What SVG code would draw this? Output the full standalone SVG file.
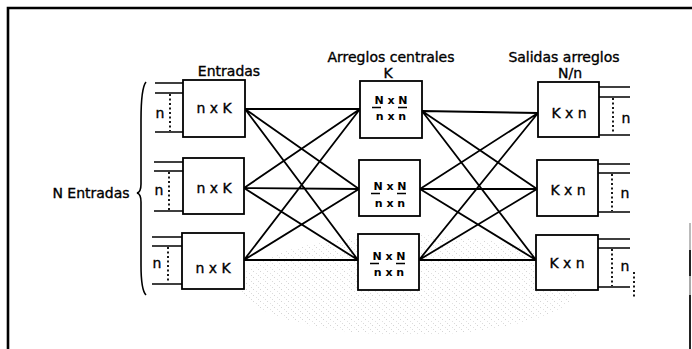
<svg xmlns="http://www.w3.org/2000/svg" width="692" height="349" viewBox="0 0 692 349">
<defs>
<style>
.box{fill:#fff;stroke:#000;stroke-width:1.8}
.t{font-family:"DejaVu Sans","Liberation Sans",sans-serif;font-size:14px;fill:#000;stroke:#000;stroke-width:0.35;text-anchor:middle}
.s{font-family:"DejaVu Sans","Liberation Sans",sans-serif;font-size:11px;font-weight:bold;fill:#000;text-anchor:middle}
.ln{stroke:#000;stroke-width:1.8;fill:none}
.io{stroke:#000;stroke-width:1.6;fill:none}
.dot{stroke:#000;stroke-width:1.8;stroke-dasharray:2 2.5;fill:none}
.bar{stroke:#000;stroke-width:1.3}
</style>
<pattern id="speck" width="7" height="6" patternUnits="userSpaceOnUse">
<rect x="1" y="1" width="1" height="1" fill="#888"/>
<rect x="4" y="3" width="1" height="1" fill="#aaa"/>
<rect x="6" y="5" width="1" height="1" fill="#999"/>
</pattern>
</defs>
<rect width="692" height="349" fill="#fff"/>
<ellipse cx="410" cy="285" rx="170" ry="50" fill="url(#speck)" opacity="0.35"/>
<g id="frame">
<path d="M8,349 L8,8 L692,8" fill="none" stroke="#000" stroke-width="2.6"/>
<line x1="690" y1="223" x2="690" y2="250" stroke="#bbb" stroke-width="2"/>
<line x1="690" y1="250" x2="690" y2="276" stroke="#222" stroke-width="2"/>
<line x1="690" y1="276" x2="690" y2="295" stroke="#aaa" stroke-width="2"/>
<line x1="690" y1="295" x2="690" y2="349" stroke="#222" stroke-width="2"/>
</g>
<g id="connectors">
<path class="ln" d="M245,109 L360,109 M245,109 L359,189 M245,109 L358,260 M244,188 L360,109 M244,188 L359,189 M244,188 L358,260 M244,260 L360,109 M244,260 L359,189 M244,260 L358,260"/>
<path class="ln" d="M422,111 L538,113 M422,111 L537,189 M422,111 L536,260 M420,189 L538,113 M420,189 L537,189 M420,189 L536,260 M419,260 L538,113 M419,260 L537,189 M419,260 L536,260"/>
</g>
<g id="labels">
<text class="t" x="229" y="76">Entradas</text>
<text class="t" x="391" y="62">Arreglos centrales</text>
<text class="t" x="388" y="78">K</text>
<text class="t" x="564" y="62">Salidas arreglos</text>
<text class="t" x="570" y="78">N/n</text>
<text class="t" x="91" y="198" font-size="13">N Entradas</text>
<path d="M146,82 Q141,88 141,120 L141,184 Q141,192 137,193 Q141,194 141,202 L141,265 Q141,290 146,295" fill="none" stroke="#000" stroke-width="1.6"/>
</g>
<g id="in1">
<rect class="box" x="183" y="80" width="62" height="57"/>
<text class="t" x="214" y="113">n x K</text>
<path class="io" d="M155,83 H183 M155,93 H183 M155,132 H183"/>
<line class="dot" x1="170" y1="94" x2="170" y2="131"/>
<text class="t" x="160" y="118">n</text>
</g>
<g id="in2">
<rect class="box" x="183" y="158" width="61" height="56"/>
<text class="t" x="214" y="193">n x K</text>
<path class="io" d="M154,162 H183 M154,171 H183 M154,211 H183"/>
<line class="dot" x1="169" y1="172" x2="169" y2="210"/>
<text class="t" x="159" y="195">n</text>
</g>
<g id="in3">
<rect class="box" x="182" y="233" width="62" height="56"/>
<text class="t" x="213" y="273">n x K</text>
<path class="io" d="M152,237 H182 M152,246 H182 M152,284 H182"/>
<line class="dot" x1="168" y1="247" x2="168" y2="283"/>
<text class="t" x="157" y="268">n</text>
</g>
<g id="mid1">
<rect class="box" x="360" y="81" width="62" height="57"/>
<text class="s" x="391" y="104">N x N</text>
<path class="bar" d="M372,107.5 H381 M398,107.5 H407"/>
<text class="s" x="391" y="120">n x n</text>
</g>
<g id="mid2">
<rect class="box" x="359" y="160" width="61" height="56"/>
<text class="s" x="390" y="190">N x N</text>
<path class="bar" d="M371,193.5 H380 M397,193.5 H406"/>
<text class="s" x="390" y="207">n x n</text>
</g>
<g id="mid3">
<rect class="box" x="358" y="234" width="61" height="56"/>
<text class="s" x="389" y="260">N x N</text>
<path class="bar" d="M370,263.5 H379 M396,263.5 H405"/>
<text class="s" x="389" y="276">n x n</text>
</g>
<g id="out1">
<rect class="box" x="538" y="82" width="61" height="55"/>
<text class="t" x="569" y="118">K x n</text>
<path class="io" d="M599,87 H630 M599,97 H630 M599,135 H630"/>
<line class="dot" x1="613" y1="98" x2="613" y2="134"/>
<text class="t" x="626" y="123">n</text>
</g>
<g id="out2">
<rect class="box" x="537" y="160" width="61" height="56"/>
<text class="t" x="568" y="195">K x n</text>
<path class="io" d="M598,164 H630 M598,173 H630 M598,212 H630"/>
<line class="dot" x1="612" y1="174" x2="612" y2="211"/>
<text class="t" x="625" y="198">n</text>
</g>
<g id="out3">
<rect class="box" x="536" y="235" width="62" height="55"/>
<text class="t" x="567" y="268">K x n</text>
<path class="io" d="M598,239 H630 M598,248 H630 M598,287 H630"/>
<line class="dot" x1="612" y1="249" x2="612" y2="286"/>
<text class="t" x="625" y="271">n</text>
<line class="dot" x1="634" y1="272" x2="634" y2="297"/>
</g>
</svg>
